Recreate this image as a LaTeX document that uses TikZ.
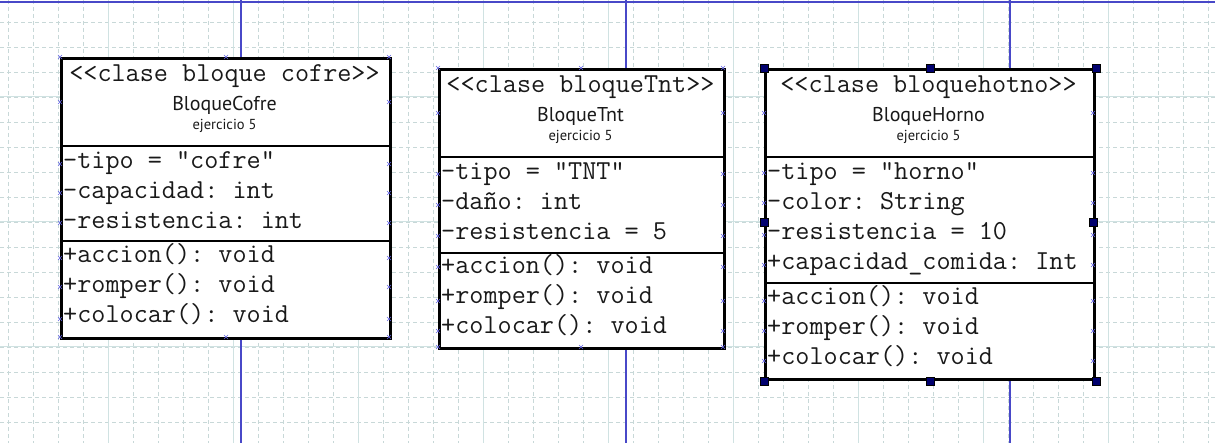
\documentclass[tikz,border=0pt]{standalone}
\usepackage{fontspec}
\setmainfont{PT Sans}
\frenchspacing
\definecolor{gridminor}{RGB}{200,216,216}
\definecolor{gridmajor}{RGB}{208,226,226}
\definecolor{pageblue}{RGB}{72,72,200}
\definecolor{markblue}{RGB}{100,100,230}
\definecolor{handlenavy}{RGB}{0,0,110}
\tikzset{
  minorline/.style={gridminor, line width=0.8pt, dash pattern=on 4pt off 3pt},
  majorline/.style={gridmajor, line width=1pt},
  pageline/.style={pageblue, line width=1.4pt},
  classbox/.style={draw=black, fill=white, line width=2.8pt, rectangle, inner sep=0pt, anchor=north west},
  divider/.style={black, line width=2.4pt},
  mono/.style={font=\ttfamily\frenchspacing\fontsize{27.4}{27}\selectfont, inner sep=0pt, text=black!90},
  member/.style={mono, anchor=base west},
  stereo/.style={mono, anchor=base},
  cname/.style={font=\fontsize{20}{20}\selectfont, inner sep=0pt, anchor=base, text=black!90},
  csub/.style={font=\fontsize{14.5}{15}\selectfont, inner sep=0pt, anchor=base, text=black!90},
  handle/.style={draw=black, fill=handlenavy, line width=0.6pt, minimum size=8pt, inner sep=0pt, rectangle},
  xm/.pic={\draw[markblue, line width=0.6pt] (-2,-2) -- (2,2) (-2,2) -- (2,-2);}
}
\begin{document}
\begin{tikzpicture}[x=1pt,y=-1pt]
\useasboundingbox (0,0) rectangle (1215,443);
\fill[white] (0,0) rectangle (1215,443);
% grid
\foreach \x in {8,33,...,1208} \draw[minorline] (\x,0) -- (\x,443);
\foreach \y in {22,47,...,442} \draw[minorline] (0,\y) -- (1215,\y);
\foreach \x in {108,233,...,1108} \draw[majorline] (\x,0) -- (\x,443);
\foreach \y in {97,222,347} \draw[majorline] (0,\y) -- (1215,\y);
% page lines
\coordinate (ptl) at (0,2); \coordinate (ptr) at (1215,2);
\draw[pageline] (ptl) -- (ptr);
\foreach \x in {241,626,1010} \draw[pageline] (\x,0) -- (\x,443);

% ---------- BloqueCofre ----------
\node[classbox, minimum width=329pt, minimum height=280pt] (cofre) at (60,57) {};
\draw[divider] (60,146) -- (389,146);
\draw[divider] (60,241) -- (389,241);
\node[stereo] (cofreS) at (224.5,82) {{<}{<}clase bloque cofre{>}{>}};
\node[cname] (cofreN) at (224.5,111) {BloqueCofre};
\node[csub] (cofreE) at (224.5,130) {ejercicio 5};
\node[member] (c1) at (63,169) {-tipo = "cofre"};
\node[member] (c2) at (63,199) {-capacidad: int};
\node[member] (c3) at (63,229) {-resistencia: int};
\node[member] (c4) at (63,263) {+accion(): void};
\node[member] (c5) at (63,293) {+romper(): void};
\node[member] (c6) at (63,323) {+colocar(): void};
\foreach \y in {57,102,164,193,223,258,287,319,337} {\pic at (60,\y) {xm}; \pic at (389,\y) {xm};}
\pic at (226,57) {xm}; \pic at (226,337) {xm};

% ---------- BloqueTnt ----------
\node[classbox, minimum width=285pt, minimum height=279pt] (tnt) at (438,68) {};
\draw[divider] (438,157) -- (723,157);
\draw[divider] (438,253) -- (723,253);
\node[stereo] (tntS) at (580.5,93) {{<}{<}clase bloqueTnt{>}{>}};
\node[cname] (tntN) at (580.5,122) {BloqueTnt};
\node[csub] (tntE) at (580.5,141) {ejercicio 5};
\node[member] (t1) at (441,180) {-tipo = "TNT"};
\node[member] (t2) at (441,210) {-daño: int};
\node[member] (t3) at (441,240) {-resistencia = 5};
\node[member] (t4) at (441,274) {+accion(): void};
\node[member] (t5) at (441,304) {+romper(): void};
\node[member] (t6) at (441,334) {+colocar(): void};
\foreach \y in {68,113,174,205,236,267,301,331,347} {\pic at (438,\y) {xm}; \pic at (723,\y) {xm};}
\pic at (581,68) {xm}; \pic at (581,347) {xm};

% ---------- BloqueHorno ----------
\node[classbox, minimum width=329pt, minimum height=310pt] (horno) at (764,68) {};
\draw[divider] (764,157) -- (1093,157);
\draw[divider] (764,283) -- (1093,283);
\node[stereo] (hornoS) at (928.5,93) {{<}{<}clase bloquehotno{>}{>}};
\node[cname] (hornoN) at (928.5,122) {BloqueHorno};
\node[csub] (hornoE) at (928.5,141) {ejercicio 5};
\node[member] (h1) at (767,180) {-tipo = "horno"};
\node[member] (h2) at (767,210) {-color: String};
\node[member] (h3) at (767,240) {-resistencia = 10};
\node[member] (h4) at (767,270) {+capacidad\_comida: Int};
\node[member] (h5) at (767,305) {+accion(): void};
\node[member] (h6) at (767,335) {+romper(): void};
\node[member] (h7) at (767,365) {+colocar(): void};
\foreach \y in {113,173,203,235,265,301,331,361} {\pic at (764,\y) {xm}; \pic at (1093,\y) {xm};}
% selection handles
\node[handle] (hd1) at (horno.north west) {};
\node[handle] (hd2) at (horno.north) {};
\node[handle] (hd3) at (horno.north east) {};
\node[handle] (hd4) at (764,222) {};
\node[handle] (hd5) at (1093,222) {};
\node[handle] (hd6) at (horno.south west) {};
\node[handle] (hd7) at (horno.south) {};
\node[handle] (hd8) at (horno.south east) {};
\end{tikzpicture}
\end{document}
